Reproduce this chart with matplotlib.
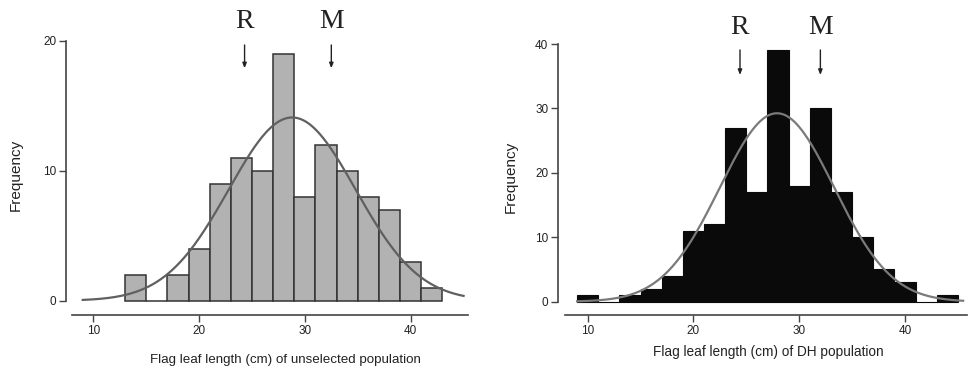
import numpy as np
import matplotlib
matplotlib.use("Agg")
import matplotlib.pyplot as plt

# ---------------- data ----------------
left_bin_starts = [13, 15, 17, 19, 21, 23, 25, 27, 29, 31, 33, 35, 37, 39, 41]
left_counts     = [2, 0, 2, 4, 9, 11, 10, 19, 8, 12, 10, 8, 7, 3, 1]
left_mean, left_sd = 28.8, 6.0
left_markers = {"R": 24.3, "M": 32.5}

right_bin_starts = [9, 11, 13, 15, 17, 19, 21, 23, 25, 27, 29, 31, 33, 35, 37, 39, 41, 43]
right_counts     = [1, 0, 1, 2, 4, 11, 12, 27, 17, 39, 18, 30, 17, 10, 5, 3, 0, 1]
right_mean, right_sd = 27.9, 5.4
right_markers = {"R": 24.4, "M": 32.0}

bin_width = 2
x_ticks = [10, 20, 30, 40]
left_yticks = [0, 10, 20]
right_yticks = [0, 10, 20, 30, 40]
left_xlabel = "Flag leaf length (cm) of unselected population"
right_xlabel = "Flag leaf length (cm) of DH population"

# ---------------- layout ----------------
W, H = 972, 372
fig = plt.figure(figsize=(W / 100, H / 100), dpi=100)
SANS = ["Liberation Sans", "DejaVu Sans"]
SERIF = ["Liberation Serif", "DejaVu Serif"]


def px_axes(x0, x1, ytop, ybot):
    return fig.add_axes([x0 / W, 1 - ybot / H, (x1 - x0) / W, (ybot - ytop) / H])


def normal_curve(xs, mean, sd, n):
    return n * bin_width * np.exp(-0.5 * ((xs - mean) / sd) ** 2) / (sd * np.sqrt(2 * np.pi))


def style_axes(ax, xlim, ylim, xspine_y, xbounds, yticks):
    ax.set_xlim(*xlim)
    ax.set_ylim(*ylim)
    for s in ("top", "right"):
        ax.spines[s].set_visible(False)
    ax.spines["left"].set_bounds(yticks[0], yticks[-1])
    ax.spines["bottom"].set_position(("data", xspine_y))
    ax.spines["bottom"].set_bounds(*xbounds)
    for s in ("left", "bottom"):
        ax.spines[s].set_color("#444444")
        ax.spines[s].set_linewidth(1.2)
    ax.set_xticks(x_ticks)
    ax.set_yticks(yticks)
    ax.tick_params(axis="both", direction="out", length=5, width=1, color="#444444",
                   labelsize=8.5, pad=2, labelcolor="#222222")
    for lab in ax.get_xticklabels() + ax.get_yticklabels():
        lab.set_family(SANS)
    ax.set_ylabel("Frequency", family=SANS, fontsize=11, color="#222222")


def markers(ax, mk, y_start, y_end, y_text):
    for name, xv in mk.items():
        ax.annotate("", xy=(xv, y_end), xytext=(xv, y_start), annotation_clip=False,
                    arrowprops=dict(arrowstyle="-|>,head_length=0.3,head_width=0.12",
                                    color="#222222", lw=1.0, shrinkA=0, shrinkB=0))
        ax.text(xv, y_text, name, ha="center", va="center", family=SERIF,
                fontsize=20, color="#222222", clip_on=False)


# ---- left panel ----
axL = px_axes(66, 468, 32.9, 317.6)
style_axes(axL, (7.42, 45.42), (-1.3, 20.6), -1.1, (8.0, 45.4), left_yticks)
axL.bar(left_bin_starts, left_counts, width=bin_width, align="edge",
        color="#b2b2b2", edgecolor="#333333", linewidth=1.1, zorder=2)
xs = np.linspace(9.0, 45.0, 300)
axL.plot(xs, normal_curve(xs, left_mean, left_sd, sum(left_counts)),
         color="#606060", lw=1.6, zorder=3, clip_on=False)
markers(axL, left_markers, 19.67, 17.88, 21.46)
axL.yaxis.set_label_coords(-0.107, 0.5)
fig.text(285 / W, 1 - 360 / H, left_xlabel, ha="center", va="center",
         family=SANS, fontsize=9.6, color="#222222")

# ---- right panel ----
axR = px_axes(558, 968, 36.3, 318.45)
style_axes(axR, (7.19, 45.96), (-2.6, 41.2), -2.06, (7.86, 45.9), right_yticks)
axR.bar(right_bin_starts, right_counts, width=bin_width, align="edge",
        color="#0a0a0a", edgecolor="#0a0a0a", linewidth=0.8, zorder=2)
xs = np.linspace(9.0, 45.5, 300)
axR.plot(xs, normal_curve(xs, right_mean, right_sd, sum(right_counts)),
         color="#7a7a7a", lw=1.6, zorder=3, clip_on=False)
markers(axR, right_markers, 39.08, 35.2, 42.58)
axR.yaxis.set_label_coords(-0.098, 0.5)
fig.text(768 / W, 1 - 352 / H, right_xlabel, ha="center", va="center",
         family=SANS, fontsize=9.8, color="#222222")

fig.savefig("out.png", dpi=100, facecolor="white")
